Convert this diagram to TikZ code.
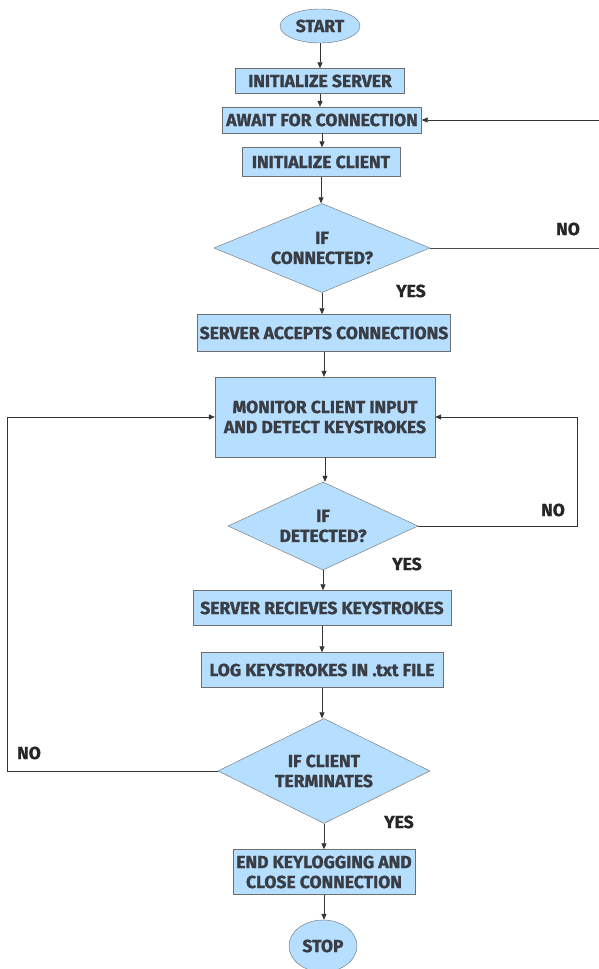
\documentclass[tikz,border=0pt]{standalone}
\usepackage{fontspec}
\setmainfont{Fira Sans}[BoldFeatures={FakeBold=1.2}]
\usetikzlibrary{shapes.geometric,arrows.meta}
\definecolor{boxblue}{RGB}{181,222,255}
\definecolor{boxline}{RGB}{110,110,110}
\definecolor{boxtext}{RGB}{58,62,68}
\tikzset
{
	my box/.style={draw=boxline,fill=boxblue,text=boxtext,font=\fontsize{17.5}{20}\selectfont\bfseries,align=center,inner sep=0pt},
	my decision/.style={diamond,draw=boxline,fill=boxblue,text=boxtext,font=\fontsize{17.5}{20}\selectfont\bfseries,align=center,inner sep=0pt},
	my terminal/.style={ellipse,draw=boxline,fill=boxblue,text=boxtext,font=\fontsize{17.5}{20}\selectfont\bfseries,inner sep=0pt},
	my label/.style={text=black!85,font=\fontsize{17.5}{20}\selectfont\bfseries},
	my arrow/.style={draw=black!80,line width=0.7pt,-{Triangle[length=6pt,width=5pt]}},
	my line/.style={draw=black!70,line width=0.7pt}
}

\begin{document}
\begin{tikzpicture}[x=1pt,y=-1pt]
		\useasboundingbox (0,0) rectangle (598,969);
		% coordinates
		\coordinate (loopR) at (606,0);
		\coordinate (loopM) at (577,0);
		\coordinate (loopL) at (7,0);
		% nodes
		\node[my terminal,minimum width=80,minimum height=34] (start) at (320,26) {START};
		\node[my box,minimum width=169,minimum height=25] (initserver) at (320,81) {INITIALIZE SERVER};
		\node[my box,minimum width=199,minimum height=26] (await) at (322,120) {AWAIT FOR CONNECTION};
		\node[my box,minimum width=158,minimum height=29] (initclient) at (321,162) {INITIALIZE CLIENT};
		\node[my decision,minimum width=216,minimum height=89,aspect=2.4] (connected) at (322,248) {IF\\CONNECTED?};
		\node[my box,minimum width=253,minimum height=37] (accepts) at (324,333) {SERVER ACCEPTS CONNECTIONS};
		\node[my box,minimum width=220,minimum height=80] (monitor) at (325,417) {MONITOR CLIENT INPUT\\AND DETECT KEYSTROKES};
		\node[my decision,minimum width=190,minimum height=88,aspect=2.2] (detected) at (323,526) {IF\\DETECTED?};
		\node[my box,minimum width=258,minimum height=35] (receives) at (322,608) {SERVER RECIEVES KEYSTROKES};
		\node[my box,minimum width=242,minimum height=35] (logkeys) at (322,670) {LOG KEYSTROKES IN .txt FILE};
		\node[my decision,minimum width=212,minimum height=105,aspect=2] (terminates) at (324,771) {IF CLIENT\\TERMINATES};
		\node[my box,minimum width=182,minimum height=45] (endlog) at (324,872) {END KEYLOGGING AND\\CLOSE CONNECTION};
		\node[my terminal,minimum width=68,minimum height=52] (stop) at (323,946) {STOP};
		% labels
		\node[my label] (yes1) at (411,291) {YES};
		\node[my label] (no1) at (568,229) {NO};
		\node[my label] (yes2) at (407,564) {YES};
		\node[my label] (no2) at (553,510) {NO};
		\node[my label] (yes3) at (399,822) {YES};
		\node[my label] (no3) at (29,753) {NO};
		% main flow
		\foreach \a/\b in {start/initserver,initserver/await,await/initclient,initclient/connected,connected/accepts,accepts/monitor,monitor/detected,detected/receives,receives/logkeys,logkeys/terminates,terminates/endlog,endlog/stop}
		\draw[my arrow] (\a.south) -- (\a.south |- \b.north);
		% loops
		\draw[my line] (connected.east) -- (connected.east -| loopR) -- (loopR |- await.east);
		\draw[my arrow] (loopR |- await.east) -- (await.east);
		\draw[my arrow] (detected.east) -| (loopM |- monitor.east) -- (monitor.east);
		\draw[my arrow] (terminates.west) -| (loopL |- monitor.west) -- (monitor.west);
	\end{tikzpicture}
\end{document}
